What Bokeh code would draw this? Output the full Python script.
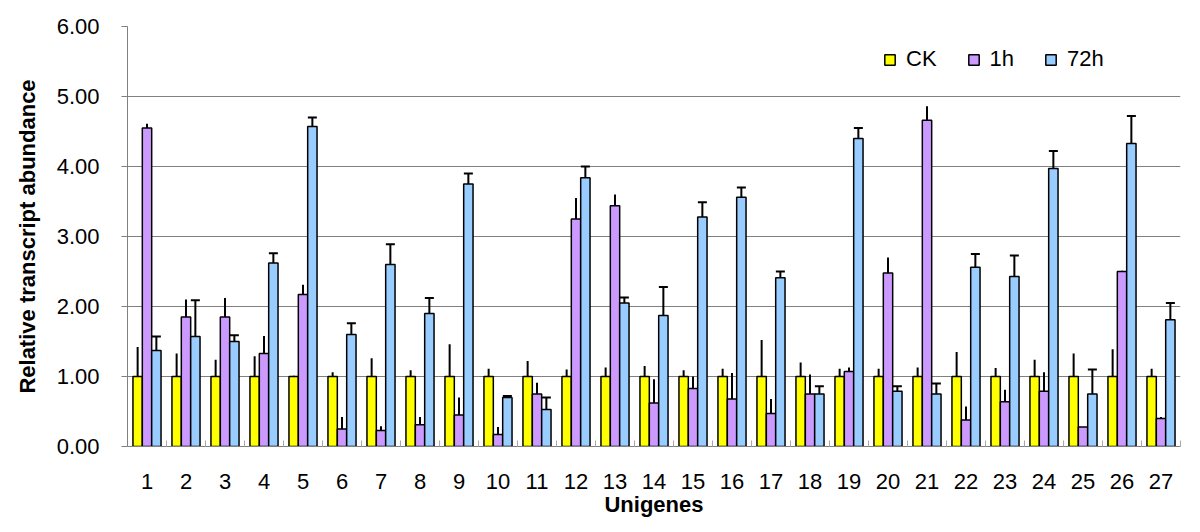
from bokeh.plotting import figure
from bokeh.models import (ColumnDataSource, Whisker, TeeHead, FixedTicker, Legend,
                          LegendItem, Range1d, PrintfTickFormatter)
from bokeh.embed import file_html
from bokeh.resources import INLINE

genes = list(range(1, 28))
series_names = ["CK", "1h", "72h"]

ck_mean = [1.00, 1.00, 1.00, 1.00, 1.00, 1.00, 1.00, 1.00, 1.00, 1.00, 1.00, 1.00, 1.00, 1.00,
           1.00, 1.00, 1.00, 1.00, 1.00, 1.00, 1.00, 1.00, 1.00, 1.00, 1.00, 1.00, 1.00]
ck_sd = [0.42, 0.33, 0.24, 0.29, 0.01, 0.06, 0.26, 0.09, 0.46, 0.11, 0.22, 0.10, 0.13, 0.15,
         0.09, 0.11, 0.52, 0.20, 0.11, 0.11, 0.13, 0.35, 0.12, 0.24, 0.33, 0.39, 0.11]

h1_mean = [4.55, 1.85, 1.85, 1.33, 2.17, 0.25, 0.23, 0.31, 0.45, 0.17, 0.75, 3.25, 3.44, 0.62,
           0.83, 0.68, 0.47, 0.75, 1.07, 2.48, 4.66, 0.38, 0.64, 0.79, 0.28, 2.50, 0.40]
h1_sd = [0.06, 0.25, 0.27, 0.25, 0.14, 0.17, 0.06, 0.11, 0.25, 0.11, 0.16, 0.30, 0.16, 0.34,
         0.17, 0.37, 0.21, 0.28, 0.06, 0.22, 0.20, 0.19, 0.17, 0.27, 0.00, 0.01, 0.02]

h72_mean = [1.37, 1.57, 1.50, 2.62, 4.57, 1.60, 2.60, 1.90, 3.75, 0.70, 0.53, 3.84, 2.05, 1.87,
            3.28, 3.56, 2.41, 0.75, 4.40, 0.79, 0.75, 2.56, 2.43, 3.97, 0.75, 4.33, 1.81]
h72_sd = [0.20, 0.52, 0.09, 0.14, 0.13, 0.16, 0.29, 0.22, 0.15, 0.02, 0.17, 0.16, 0.08, 0.41,
          0.21, 0.14, 0.09, 0.11, 0.15, 0.07, 0.15, 0.19, 0.30, 0.25, 0.35, 0.39, 0.24]

y_ticks = [0, 1, 2, 3, 4, 5, 6]

FONT = "Liberation Sans"
colors = ["#FFFF00", "#CC99FF", "#99CCFF"]
offsets = [-0.24, 0.0, 0.24]
caps = [False, False, True]
BAR_W = 0.24

p = figure(width=1190, height=520, output_backend="svg", toolbar_location=None,
           x_range=Range1d(0.5, 27.5), y_range=Range1d(0, 6),
           min_border_left=127, min_border_right=10, min_border_top=26, min_border_bottom=74)
p.outline_line_color = None
p.background_fill_color = "white"

renderers = []
for name, mean, sd, col, off, cap in zip(series_names, [ck_mean, h1_mean, h72_mean],
                                          [ck_sd, h1_sd, h72_sd], colors, offsets, caps):
    xs = [g + off for g in genes]
    src = ColumnDataSource(dict(x=xs, top=mean, upper=[m + s for m, s in zip(mean, sd)]))
    r = p.vbar(x="x", top="top", width=BAR_W, source=src, fill_color=col,
               line_color="black", line_width=1.5)
    renderers.append((name, r))
    w = Whisker(source=src, base="x", lower="top", upper="upper", dimension="height",
                line_color="black", line_width=2,
                upper_head=TeeHead(size=9, line_color="black", line_width=2) if cap else None,
                lower_head=None)
    p.add_layout(w)

# x axis
xa = p.xaxis[0]
xa.ticker = FixedTicker(ticks=genes, minor_ticks=[g - 0.5 for g in genes] + [27.5])
xa.major_tick_in = 0
xa.major_tick_out = 0
xa.minor_tick_in = 6
xa.minor_tick_out = 0
xa.minor_tick_line_color = "#a8a8a8"
xa.axis_line_color = "#808080"
xa.major_label_text_font = FONT
xa.major_label_text_font_size = "22px"
xa.major_label_text_color = "black"
xa.major_label_standoff = 27
xa.axis_label = "Unigenes"
xa.axis_label_text_font = FONT
xa.axis_label_text_font_size = "22px"
xa.axis_label_text_font_style = "bold"
xa.axis_label_text_color = "black"
xa.axis_label_standoff = 0

# y axis
ya = p.yaxis[0]
ya.ticker = FixedTicker(ticks=y_ticks)
ya.formatter = PrintfTickFormatter(format="%.2f")
ya.major_tick_in = 0
ya.major_tick_out = 6
ya.major_tick_line_color = "#808080"
ya.minor_tick_line_color = None
ya.axis_line_color = "#808080"
ya.major_label_text_font = FONT
ya.major_label_text_font_size = "22px"
ya.major_label_text_color = "black"
ya.major_label_standoff = 22
ya.axis_label = "Relative transcript abundance"
ya.axis_label_text_font = FONT
ya.axis_label_text_font_size = "22px"
ya.axis_label_text_font_style = "bold"
ya.axis_label_text_color = "black"
ya.axis_label_standoff = 14

p.xgrid.grid_line_color = None
p.ygrid.ticker = FixedTicker(ticks=[1, 2, 3, 4, 5])
p.ygrid.grid_line_color = "#808080"
p.ygrid.grid_line_width = 1

legend = Legend(items=[LegendItem(label=n, renderers=[r]) for n, r in renderers],
                orientation="horizontal", location=(756, 374),
                border_line_color=None, background_fill_alpha=0,
                padding=0, margin=0, spacing=30, label_standoff=10,
                glyph_width=13, glyph_height=13,
                label_text_font=FONT, label_text_font_size="22px", label_text_color="black")
p.add_layout(legend)

open("out.html", "w").write(file_html(p, INLINE))
